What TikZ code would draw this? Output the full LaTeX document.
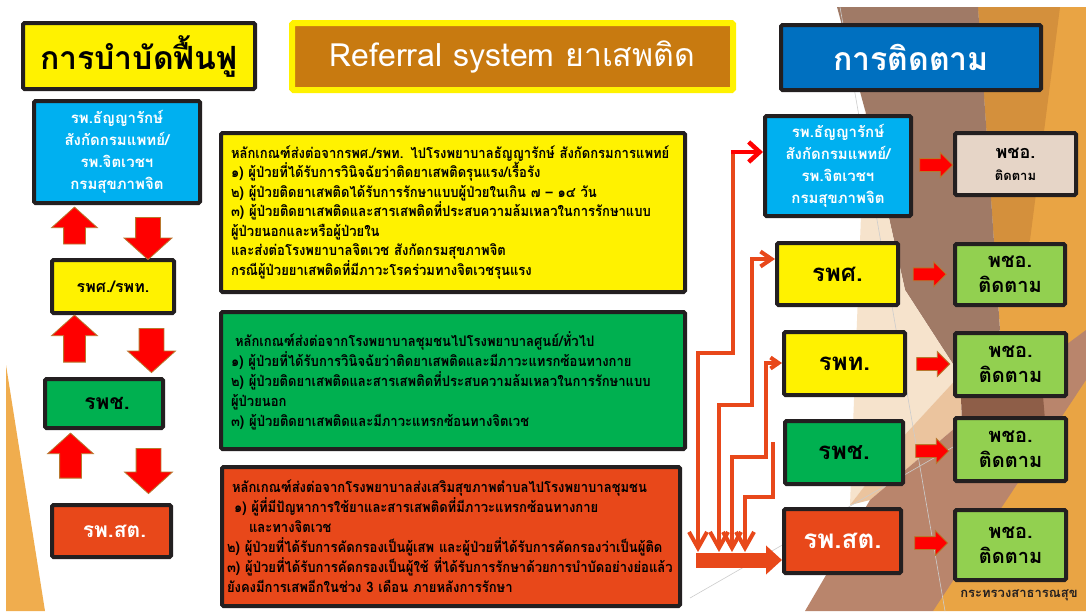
\documentclass[tikz,border=0pt]{standalone}
\usepackage{fontspec}
\setmainfont[Script=Thai]{Loma}
\newfontfamily\bodyfont[Script=Thai,FakeStretch=0.9]{Loma}
\usetikzlibrary{arrows.meta,shapes.arrows,calc}
\definecolor{boxline}{HTML}{231F20}
\definecolor{titlebrown}{HTML}{C87A10}
\definecolor{titleblue}{HTML}{0070C0}
\definecolor{skyblue}{HTML}{00B0F0}
\definecolor{hgreen}{HTML}{00B050}
\definecolor{hred}{HTML}{E8481A}
\definecolor{lgreen}{HTML}{92D050}
\definecolor{beige}{HTML}{E6D5C7}
\definecolor{arrline}{HTML}{B8782E}
\definecolor{deco1}{HTML}{E9A444}
\definecolor{deco2}{HTML}{D4903C}
\definecolor{deco3}{HTML}{A07A66}
\definecolor{deco4}{HTML}{F6E3CC}
\definecolor{deco5}{HTML}{8E5E48}
\definecolor{deco6}{HTML}{B9856C}
\definecolor{deco7}{HTML}{F0AD4E}
\definecolor{deco8}{HTML}{EBC49E}
\tikzset{box/.style={draw=boxline,line width=4pt,rounded corners=1.5pt,inner sep=0pt}}
\tikzset{fatarrow/.style={single arrow,fill=red,draw=arrline,line width=0.8pt,inner xsep=0pt}}
\tikzset{uparrow/.style={fatarrow,rotate=90,inner ysep=10.5pt,single arrow head extend=12pt,single arrow tip angle=96}}
\tikzset{dnarrow/.style={fatarrow,rotate=-90,inner ysep=12pt,single arrow head extend=11.5pt,single arrow tip angle=96}}
\tikzset{link/.style={draw=hred,line width=4pt}}
\tikzset{busend/.style={arrows={Straight Barb[length=16pt,width=18pt]-}}}

\begin{document}
\begin{tikzpicture}[x=1pt,y=-1pt]
  % page and the shapes behind
  \useasboundingbox (0,0) rectangle (1086,611);
  \fill[white] (0,0) rectangle (1086,611);
  \fill[deco7] (6,365) -- (45,611) -- (6,611) -- cycle;
  \fill[deco1] (978,7) -- (1086,7) -- (1086,611) -- (933,611) -- (1000,330) -- cycle;
  \fill[deco2] (978,7) -- (1060,7) -- (1030,240) -- (998,300) -- cycle;
  \fill[deco3] (837,7) -- (978,7) -- (1000,330) -- (960,375) -- (905,290) -- (865,110) -- cycle;
  \fill[deco4] (865,110) -- (905,290) -- (960,375) -- (900,440) -- (850,505) -- cycle;
  \fill[deco8] (900,440) -- (960,375) -- (962,422) -- (870,500) -- (850,505) -- cycle;
  \fill[deco6] (805,611) -- (870,500) -- (962,422) -- (1086,330) -- (1086,380) -- (933,611) -- cycle;
  \fill[deco5] (960,375) -- (1040,360) -- (1045,420) -- (962,422) -- cycle;
  \draw[gray!40,line width=0.6pt] (840,7) -- (945,611);
  \draw[gray!40,line width=0.6pt] (690,598) -- (1000,420);

  % headings
  \node[box,fill=yellow,minimum width=232pt,minimum height=66pt,font=\fontsize{32}{32}\selectfont\bfseries] (hcare) at (139,56) {การบำบัดฟื้นฟู};
  \node[box,draw=yellow,line width=6pt,fill=titlebrown,minimum width=441pt,minimum height=67pt,text=white,font=\fontsize{32}{32}\selectfont] (hsys) at (512.5,56.5) {Referral system ยาเสพติด};
  \node[box,fill=titleblue,minimum width=260pt,minimum height=65pt,text=white,font=\fontsize{32}{32}\selectfont\bfseries] (hfol) at (911,57.5) {การติดตาม};

  % left column
  \node[box,fill=skyblue,minimum width=166pt,minimum height=102pt,text=white,align=center,font=\fontsize{15}{22}\selectfont\bfseries] (L1) at (117,152) {รพ.ธัญญารักษ์\\สังกัดกรมแพทย์/\\รพ.จิตเวชฯ\\กรมสุขภาพจิต};
  \node[box,fill=yellow,minimum width=122pt,minimum height=53pt,font=\fontsize{16}{16}\selectfont\bfseries] (L2) at (113,286.5) {รพศ./รพท.\hspace{20pt}};
  \node[box,fill=hgreen,minimum width=118pt,minimum height=49pt,font=\fontsize{21}{21}\selectfont\bfseries] (L3) at (104,403.5) {\hspace{6pt}รพช.};
  \node[box,fill=hred,minimum width=119pt,minimum height=52pt,text=white,font=\fontsize{21}{21}\selectfont\bfseries] (L4) at (111.5,531) {\hspace{6pt}รพ.สต.};
  \node[uparrow,minimum height=37pt] (up1) at (74.5,230.5) {};
  \node[dnarrow,minimum height=42pt] (dn1) at (148,233) {};
  \node[uparrow,minimum height=47pt] (up2) at (74.5,343.5) {};
  \node[dnarrow,minimum height=44pt] (dn2) at (151.5,345) {};
  \node[uparrow,minimum height=45pt] (up3) at (70.5,460.5) {};
  \node[dnarrow,minimum height=45pt] (dn3) at (148.5,465.5) {};

  % middle: rules for sending on
  \node[box,fill=yellow,minimum width=464pt,minimum height=159pt,text width=444pt,align=left,font=\bodyfont\fontsize{14.5}{19.5}\selectfont\bfseries] (M1) at (453,212.5) {หลักเกณฑ์ส่งต่อจากรพศ./รพท. ไปโรงพยาบาลธัญญารักษ์ สังกัดกรมการแพทย์\\
    ๑) ผู้ป่วยที่ได้รับการวินิจฉัยว่าติดยาเสพติดรุนแรง/เรื้อรัง\\
    ๒) ผู้ป่วยติดยาเสพติดได้รับการรักษาแบบผู้ป่วยในเกิน ๗ – ๑๔ วัน\\
    ๓) ผู้ป่วยติดยาเสพติดและสารเสพติดที่ประสบความล้มเหลวในการรักษาแบบ\\
    ผู้ป่วยนอกและหรือผู้ป่วยใน\\
    และส่งต่อโรงพยาบาลจิตเวช สังกัดกรมสุขภาพจิต\\
    กรณีผู้ป่วยยาเสพติดที่มีภาวะโรคร่วมทางจิตเวชรุนแรง};
  \node[box,fill=hgreen,minimum width=464pt,minimum height=137pt,text width=444pt,align=left,font=\bodyfont\fontsize{14.5}{20}\selectfont\bfseries] (M2) at (453,380.5) {\hspace*{4pt}หลักเกณฑ์ส่งต่อจากโรงพยาบาลชุมชนไปโรงพยาบาลศูนย์/ทั่วไป\\
    ๑) ผู้ป่วยที่ได้รับการวินิจฉัยว่าติดยาเสพติดและมีภาวะแทรกซ้อนทางกาย\\
    ๒) ผู้ป่วยติดยาเสพติดและสารเสพติดที่ประสบความล้มเหลวในการรักษาแบบ\\
    ผู้ป่วยนอก\\
    ๓) ผู้ป่วยติดยาเสพติดและมีภาวะแทรกซ้อนทางจิตเวช};
  \node[box,fill=hred,minimum width=458pt,minimum height=139pt,text width=448pt,align=left,font=\bodyfont\fontsize{14.5}{20}\selectfont\bfseries] (M3) at (451,536.5) {\hspace*{5pt}หลักเกณฑ์ส่งต่อจากโรงพยาบาลส่งเสริมสุขภาพตำบลไปโรงพยาบาลชุมชน\\
    \hspace*{7pt}๑) ผู้ที่มีปัญหาการใช้ยาและสารเสพติดที่มีภาวะแทรกซ้อนทางกาย\\
    \hspace*{22pt}และทางจิตเวช\\
    ๒) ผู้ป่วยที่ได้รับการคัดกรองเป็นผู้เสพ และผู้ป่วยที่ได้รับการคัดกรองว่าเป็นผู้ติด\\
    ๓) ผู้ป่วยที่ได้รับการคัดกรองเป็นผู้ใช้ ที่ได้รับการรักษาด้วยการบำบัดอย่างย่อแล้ว\\
    ยังคงมีการเสพอีกในช่วง 3 เดือน ภายหลังการรักษา};

  % right column
  \node[box,fill=skyblue,minimum width=146pt,minimum height=100pt,text=white,align=center,font=\fontsize{15}{22}\selectfont\bfseries] (R1) at (838,166) {รพ.ธัญญารักษ์\\สังกัดกรมแพทย์/\\รพ.จิตเวชฯ\\กรมสุขภาพจิต};
  \node[box,fill=yellow,minimum width=121pt,minimum height=62pt,font=\fontsize{24}{24}\selectfont\bfseries] (R2) at (837.5,274) {รพศ.};
  \node[box,fill=yellow,minimum width=121pt,minimum height=63pt,font=\fontsize{24}{24}\selectfont\bfseries] (R3) at (844.5,363.5) {รพท.};
  \node[box,fill=hgreen,minimum width=118pt,minimum height=63pt,font=\fontsize{24}{24}\selectfont\bfseries] (R4) at (844,452.5) {รพช.};
  \node[box,fill=hred,minimum width=117pt,minimum height=64pt,text=white,font=\fontsize{26}{26}\selectfont\bfseries] (R5) at (842.5,541) {รพ.สต.};
  \node[box,fill=beige,minimum width=121pt,minimum height=62pt,align=center,font=\fontsize{13}{22}\selectfont\bfseries] (F1) at (1015.5,164) {{\fontsize{18}{18}\selectfont พชอ.}\\ติดตาม};
  \node[box,fill=lgreen,minimum width=110pt,minimum height=61pt,align=center,font=\fontsize{20}{25}\selectfont\bfseries] (F2) at (1010,274.5) {พชอ.\\ติดตาม};
  \node[box,fill=lgreen,minimum width=111pt,minimum height=63pt,align=center,font=\fontsize{20}{25}\selectfont\bfseries] (F3) at (1010.5,364.5) {พชอ.\\ติดตาม};
  \node[box,fill=lgreen,minimum width=111pt,minimum height=63pt,align=center,font=\fontsize{20}{25}\selectfont\bfseries] (F4) at (1010.5,449.5) {พชอ.\\ติดตาม};
  \node[box,fill=lgreen,minimum width=111pt,minimum height=70pt,align=center,font=\fontsize{20}{25}\selectfont\bfseries] (F5) at (1010.5,545) {พชอ.\\ติดตาม};
  \node[font=\fontsize{13}{13}\selectfont\bfseries,text=boxline] (foot) at (1019,595) {กระทรวงสาธารณสุข};

  % follow-up arrows
  \foreach \i in {1,...,5}
    \node[fatarrow,inner ysep=6pt,single arrow head extend=6pt,minimum height=33pt] (g\i) at ($(R\i.east)!.5!(F\i.west)$) {};

  % links from the sub-district hospital up
  \coordinate (tA) at (698,552);
  \coordinate (tB) at (719,552);
  \coordinate (tC) at (732,552);
  \coordinate (tD) at (745,552);
  \coordinate (kA) at (733,152);
  \coordinate (kB) at (752,259);
  \coordinate (kC) at (766,363);
  \coordinate (kD) at (773,442);
  \coordinate (bus) at (696,560);
  \draw[link,busend] (tA) -- (698,353) -| (kA);
  \draw[link,draw=red,line width=4.5pt,-{Straight Barb[length=11pt,width=20pt]}] ($(kA)+(-2.2,0)$) -- (kA -| R1.west);
  \draw[link,arrows={Straight Barb[length=16pt,width=18pt]-Straight Barb[length=11pt,width=15pt]}] (tB) -- (719,405) -| (kB) -- (kB -| R2.west);
  \draw[link,arrows={Straight Barb[length=16pt,width=18pt]-Straight Barb[length=8pt,width=11pt]}] (tC) -- (732,457) -| (kC) -- (kC -| R3.west);
  \draw[link,busend] (tD) -- (745,497) -| (kD);
  \draw[hred,line width=15pt,-{Triangle[length=16pt,width=28pt]}] (bus) -- (bus -| R5.west);
\end{tikzpicture}
\end{document}
